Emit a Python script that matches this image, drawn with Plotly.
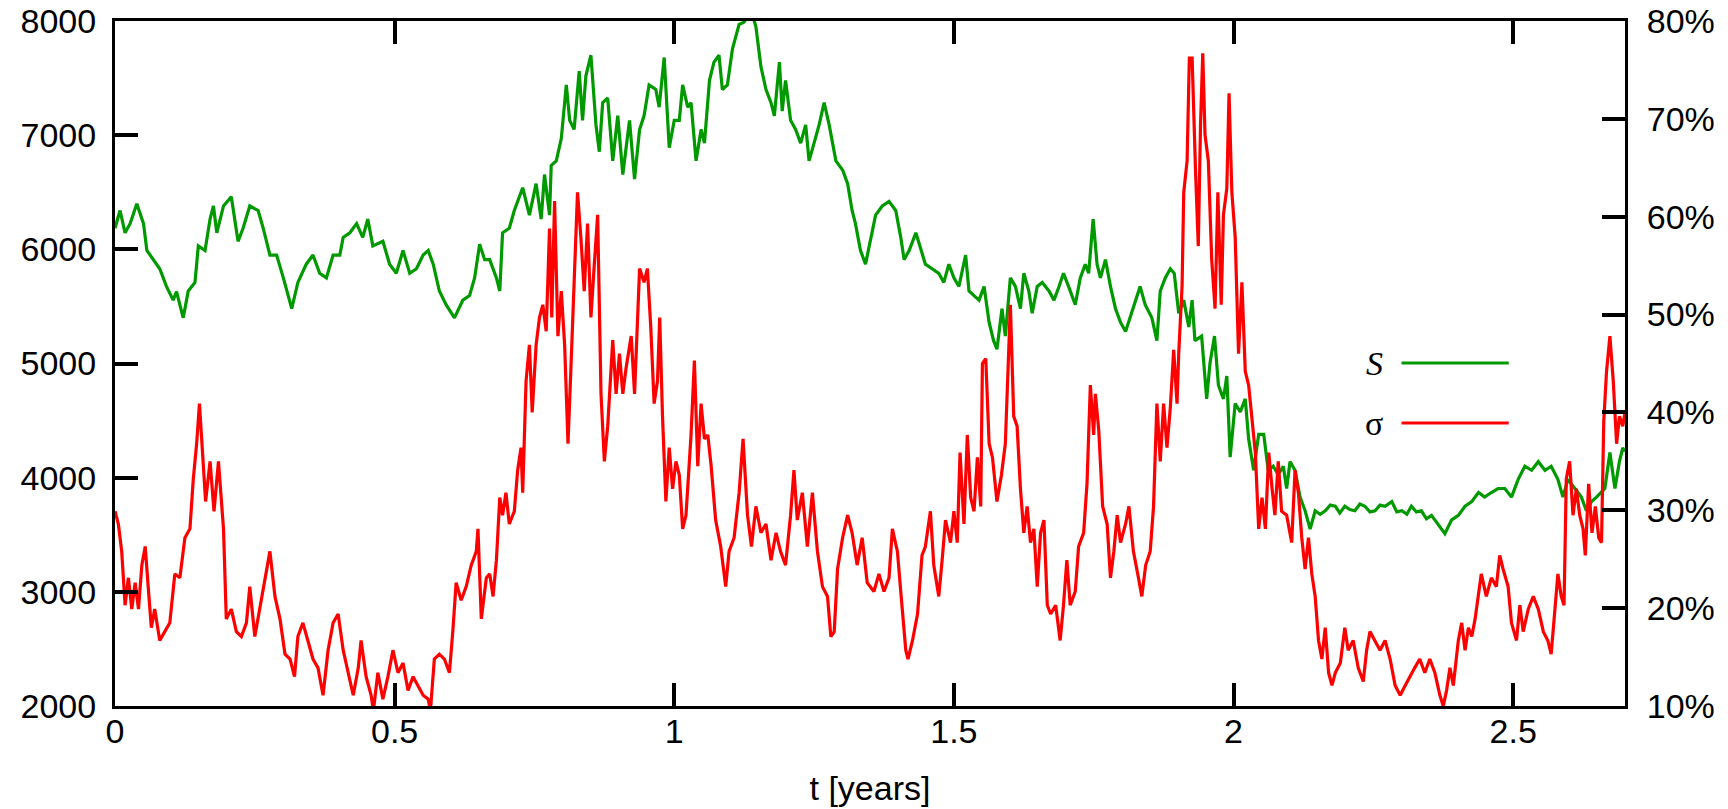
import plotly.graph_objects as go

# ---- data ----
s_t = [0.000,0.009,0.018,0.027,0.039,0.051,0.057,0.068,0.080,0.092,0.104,0.110,0.122,0.131,0.143,0.149,0.161,0.170,0.176,0.182,
       0.194,0.208,0.220,0.229,0.241,0.256,0.265,0.277,0.289,0.301,0.316,0.327,0.334,0.342,0.354,0.366,0.378,0.390,0.402,0.408,
       0.420,0.432,0.443,0.452,0.461,0.479,0.491,0.503,0.515,0.527,0.539,0.551,0.560,0.569,0.580,0.592,0.607,0.622,0.634,0.643,
       0.652,0.661,0.670,0.682,0.688,0.693,0.705,0.714,0.729,0.741,0.753,0.762,0.768,0.777,0.780,0.789,0.798,0.807,0.813,0.821,
       0.830,0.836,0.842,0.851,0.860,0.866,0.872,0.881,0.890,0.899,0.908,0.920,0.929,0.938,0.946,0.955,0.967,0.973,0.982,0.991,
       1.000,1.009,1.015,1.024,1.030,1.039,1.048,1.054,1.063,1.071,1.080,1.086,1.095,1.104,1.116,1.125,1.137,1.146,1.155,1.164,
       1.173,1.179,1.188,1.193,1.199,1.208,1.217,1.226,1.235,1.241,1.250,1.259,1.268,1.277,1.289,1.301,1.310,1.318,1.324,1.333,
       1.342,1.351,1.360,1.372,1.384,1.396,1.405,1.411,1.420,1.432,1.441,1.449,1.461,1.473,1.482,1.491,1.500,1.509,1.521,1.527,
       1.536,1.545,1.554,1.563,1.571,1.577,1.586,1.592,1.601,1.610,1.619,1.625,1.634,1.640,1.649,1.658,1.670,1.679,1.688,1.696,
       1.705,1.717,1.726,1.735,1.741,1.749,1.756,1.762,1.771,1.780,1.789,1.798,1.807,1.815,1.824,1.833,1.842,1.854,1.863,1.869,
       1.878,1.887,1.894,1.902,1.911,1.920,1.926,1.931,1.943,1.952,1.958,1.966,1.973,1.982,1.988,1.994,2.003,2.012,2.021,2.027,
       2.036,2.045,2.054,2.062,2.071,2.080,2.089,2.095,2.101,2.110,2.119,2.128,2.137,2.146,2.155,2.164,2.173,2.182,2.190,2.199,
       2.208,2.217,2.226,2.235,2.244,2.253,2.262,2.271,2.283,2.292,2.301,2.310,2.318,2.327,2.336,2.345,2.354,2.366,2.378,2.390,
       2.402,2.414,2.426,2.438,2.449,2.461,2.473,2.485,2.497,2.509,2.521,2.533,2.545,2.557,2.568,2.580,2.589,2.598,2.610,2.622,
       2.631,2.640,2.649,2.658,2.664,2.673,2.682,2.690,2.696,2.700]
s_v = [6185,6340,6145,6225,6400,6225,5990,5910,5830,5675,5555,5630,5400,5635,5710,6030,5990,6265,6380,6145,
       6380,6460,6070,6185,6380,6340,6185,5950,5950,5750,5480,5710,5790,5870,5950,5790,5750,5950,5950,6105,
       6145,6225,6105,6265,6030,6070,5870,5790,5990,5790,5830,5950,5990,5870,5635,5515,5400,5555,5595,5750,
       6045,5910,5910,5750,5635,6145,6185,6340,6540,6300,6575,6265,6655,6300,6735,6775,6970,7440,7130,7050,
       7560,7130,7520,7700,7090,6855,7285,7325,6775,7170,6655,7130,6615,7050,7170,7440,7400,7245,7680,6890,
       7130,7130,7440,7245,7285,6775,7050,6930,7480,7640,7700,7400,7440,7755,7970,7990,8100,7950,7600,7400,
       7285,7170,7640,7210,7480,7130,7050,6930,7090,6775,6930,7090,7285,7090,6775,6695,6575,6340,6225,5990,
       5870,6070,6300,6380,6420,6340,6105,5910,5990,6145,5990,5870,5830,5790,5710,5870,5750,5675,5950,5635,
       5595,5555,5675,5360,5200,5125,5480,5240,5750,5675,5480,5790,5635,5440,5675,5710,5635,5555,5675,5790,
       5675,5515,5750,5870,5790,6265,5870,5750,5910,5675,5480,5360,5280,5400,5555,5675,5515,5400,5200,5635,
       5750,5830,5790,5440,5555,5320,5555,5200,5240,4690,5005,5240,4810,4690,4890,4180,4650,4575,4690,4340,
       4065,4380,4380,4065,4100,4025,4100,3905,4140,4065,3830,3710,3550,3710,3680,3710,3760,3750,3690,3750,
       3720,3710,3770,3750,3700,3710,3760,3750,3790,3700,3710,3680,3750,3700,3710,3640,3670,3590,3510,3630,
       3670,3750,3790,3870,3830,3870,3905,3905,3830,3985,4100,4065,4140,4065,4100,3985,3830,3985,3905,3830,
       3710,3790,3830,3870,3905,4220,3905,4140,4260,4230]

sig_t = [0.000,0.006,0.012,0.018,0.024,0.030,0.036,0.042,0.048,0.054,0.060,0.065,0.071,0.080,0.089,0.098,0.107,0.116,0.125,0.134,
         0.140,0.146,0.151,0.157,0.162,0.170,0.177,0.185,0.194,0.199,0.208,0.217,0.226,0.235,0.241,0.250,0.259,0.268,0.277,0.286,
         0.295,0.304,0.313,0.321,0.327,0.336,0.345,0.354,0.363,0.372,0.381,0.390,0.399,0.408,0.417,0.426,0.435,0.440,0.449,0.458,
         0.462,0.470,0.479,0.488,0.497,0.506,0.515,0.524,0.533,0.542,0.551,0.560,0.564,0.571,0.580,0.589,0.598,0.604,0.610,0.619,
         0.628,0.637,0.646,0.649,0.655,0.664,0.670,0.676,0.682,0.688,0.693,0.699,0.705,0.714,0.720,0.726,0.729,0.735,0.741,0.746,
         0.753,0.759,0.765,0.771,0.777,0.781,0.786,0.792,0.798,0.804,0.810,0.815,0.821,0.827,0.833,0.839,0.845,0.851,0.857,0.863,
         0.869,0.875,0.881,0.890,0.896,0.902,0.908,0.914,0.923,0.929,0.938,0.946,0.952,0.958,0.964,0.970,0.974,0.979,0.985,0.991,
         0.997,1.003,1.009,1.015,1.021,1.030,1.036,1.042,1.048,1.054,1.060,1.066,1.074,1.083,1.092,1.098,1.107,1.116,1.123,1.131,
         1.138,1.146,1.155,1.164,1.173,1.182,1.190,1.199,1.208,1.214,1.220,1.229,1.238,1.247,1.256,1.265,1.274,1.280,1.286,1.292,
         1.301,1.310,1.318,1.327,1.336,1.345,1.357,1.366,1.375,1.384,1.390,1.399,1.405,1.414,1.418,1.426,1.435,1.443,1.449,1.458,
         1.464,1.473,1.479,1.485,1.494,1.500,1.506,1.511,1.518,1.524,1.530,1.536,1.542,1.548,1.551,1.557,1.563,1.569,1.577,1.585,
         1.592,1.597,1.601,1.607,1.613,1.619,1.625,1.631,1.637,1.643,1.649,1.655,1.661,1.667,1.673,1.682,1.690,1.696,1.702,1.708,
         1.717,1.723,1.732,1.738,1.744,1.750,1.753,1.759,1.766,1.774,1.780,1.786,1.792,1.798,1.807,1.813,1.821,1.830,1.836,1.843,
         1.851,1.857,1.863,1.869,1.875,1.881,1.887,1.893,1.899,1.902,1.908,1.911,1.917,1.921,1.926,1.932,1.937,1.941,1.945,1.949,
         1.955,1.961,1.967,1.972,1.978,1.982,1.988,1.992,1.997,2.003,2.009,2.015,2.021,2.027,2.033,2.039,2.045,2.051,2.057,2.063,
         2.069,2.074,2.080,2.086,2.095,2.104,2.110,2.116,2.122,2.128,2.134,2.140,2.146,2.152,2.158,2.164,2.170,2.176,2.182,2.191,
         2.199,2.205,2.214,2.223,2.232,2.238,2.244,2.253,2.262,2.271,2.280,2.289,2.298,2.307,2.315,2.324,2.333,2.342,2.351,2.360,
         2.369,2.375,2.381,2.387,2.393,2.402,2.408,2.414,2.420,2.426,2.432,2.438,2.443,2.452,2.461,2.470,2.476,2.482,2.491,2.497,
         2.506,2.512,2.518,2.527,2.536,2.545,2.554,2.562,2.568,2.574,2.580,2.586,2.591,2.595,2.601,2.607,2.613,2.619,2.625,2.629,
         2.635,2.641,2.647,2.653,2.658,2.662,2.667,2.673,2.679,2.685,2.690,2.696,2.700]
sig_v = [29.9,28.6,25.8,20.3,23.1,19.9,22.6,19.9,24.4,26.3,21.7,18.0,19.9,16.7,17.6,18.5,23.5,23.1,27.2,28.1,
         33.2,36.8,40.9,35.9,30.9,35.0,29.9,35.0,28.1,18.9,19.9,17.6,17.1,18.5,22.2,17.1,19.9,22.6,25.8,21.2,
         18.9,15.3,14.8,13.0,17.1,18.5,16.7,14.8,13.9,11.1,15.7,18.5,19.4,15.7,13.4,11.1,13.9,16.7,13.0,11.1,
         9.5,13.4,10.7,13.0,15.7,13.4,14.4,11.6,13.0,12.1,11.1,10.7,9.5,14.8,15.3,14.8,13.4,17.6,22.6,20.8,
         22.2,24.4,25.8,28.1,18.9,23.1,23.5,21.2,24.9,31.3,29.5,31.8,28.6,29.9,34.1,36.4,31.8,43.2,46.9,40.0,
         46.9,49.7,51.0,48.3,58.8,49.7,61.6,47.8,52.4,46.9,36.8,44.2,53.3,62.5,57.9,52.4,59.3,49.7,55.1,60.2,
         41.9,35.0,38.6,47.4,41.9,46.0,41.9,44.6,47.8,41.9,54.7,53.3,54.7,48.7,40.9,43.2,49.7,39.6,30.9,36.4,
         32.2,35.0,33.6,28.1,29.5,37.7,45.3,34.5,40.9,37.3,37.7,34.5,29.0,26.3,22.2,25.8,27.2,31.8,37.3,29.5,
         26.3,30.4,27.7,28.6,24.9,27.7,25.8,24.4,29.5,34.1,29.0,31.8,26.3,31.8,25.8,22.2,21.2,17.1,17.6,24.0,
         27.2,29.5,27.7,24.4,27.2,22.6,21.7,23.5,21.7,23.1,28.1,25.8,21.7,15.7,14.8,16.7,19.4,25.4,26.3,29.9,
         24.4,21.2,24.9,29.0,26.7,29.9,26.7,35.9,28.6,37.7,31.3,29.9,35.4,30.4,45.0,45.5,36.8,35.4,30.9,33.6,
         36.8,46.0,51.0,39.6,38.6,32.2,27.7,30.4,26.7,28.1,22.2,27.7,29.0,20.3,19.4,20.3,16.7,20.3,24.9,20.3,
         21.7,26.3,27.7,32.7,42.8,37.7,41.9,38.2,30.4,28.6,23.1,25.8,29.5,26.7,28.6,30.4,25.8,23.1,21.2,24.4,
         25.8,30.4,40.9,35.0,40.9,36.4,40.5,46.4,40.9,46.0,52.9,62.5,65.7,76.2,76.2,64.8,57.0,69.4,76.7,68.4,
         65.7,55.6,50.6,62.5,51.0,60.2,62.9,72.6,62.5,57.9,46.0,53.3,44.2,42.8,39.6,35.9,28.1,31.3,28.1,35.9,
         32.2,29.5,35.0,29.9,29.5,26.7,34.1,31.8,27.2,24.0,27.2,23.5,21.2,16.7,14.8,18.0,13.4,12.1,13.4,14.4,
         18.0,15.7,16.7,13.9,12.5,15.7,17.6,16.7,15.7,16.7,14.8,12.1,11.1,12.1,13.0,13.9,14.8,13.4,14.8,13.4,
         11.1,10.0,11.6,13.9,12.1,16.7,18.5,15.7,18.0,17.1,18.9,21.7,23.5,21.2,23.1,22.2,25.4,24.0,22.2,18.5,
         16.7,20.3,17.6,19.9,21.2,19.9,17.6,16.7,15.3,19.4,23.5,21.2,20.3,33.2,35.0,29.5,32.2,29.5,28.1,25.4,
         32.7,27.7,30.4,27.2,26.7,39.1,44.2,47.8,43.2,36.8,39.6,38.6,40.0]

x_ticks = [0, 0.5, 1, 1.5, 2, 2.5]
x_labels = ["0", "0.5", "1", "1.5", "2", "2.5"]
y_ticks = [2000, 3000, 4000, 5000, 6000, 7000, 8000]
y2_ticks = [10, 20, 30, 40, 50, 60, 70, 80]
y2_labels = ["10%", "20%", "30%", "40%", "50%", "60%", "70%", "80%"]

GREEN = "#009900"
RED = "#ff0000"
FONT = "Liberation Sans, Arial, sans-serif"
FS = 34

fig = go.Figure()
fig.add_trace(go.Scatter(x=s_t, y=s_v, mode="lines", name="S",
                         line=dict(color=GREEN, width=3.2), yaxis="y"))
fig.add_trace(go.Scatter(x=sig_t, y=sig_v, mode="lines", name="σ",
                         line=dict(color=RED, width=3.2), yaxis="y2"))

axis_common = dict(showgrid=False, zeroline=False, showline=True, linecolor="black",
                   linewidth=3, ticks="inside", ticklen=23, tickwidth=4, tickcolor="black",
                   automargin=False,
                   tickfont=dict(family=FONT, size=FS, color="black"))

fig.update_layout(
    width=1728, height=809,
    margin=dict(l=115, r=103, t=21, b=103),
    paper_bgcolor="white", plot_bgcolor="white",
    showlegend=False,
    xaxis=dict(range=[0, 2.7], tickvals=x_ticks, ticktext=x_labels, mirror="ticks",
               ticklabelstandoff=-7,
               title=dict(text="t [years]", font=dict(family=FONT, size=FS, color="black"), standoff=28),
               **axis_common),
    yaxis=dict(range=[2000, 8000], tickvals=y_ticks, mirror=False, ticklabelstandoff=9,
               **axis_common),
    yaxis2=dict(range=[10, 80], tickvals=y2_ticks, ticktext=y2_labels, overlaying="y", side="right",
                ticklabelstandoff=12, **axis_common),
)

# gnuplot-style key: label to the left of the line sample
key_rows = [("<i>S</i>", GREEN, 0.5007), ("σ", RED, 0.413)]
for label, color, yk in key_rows:
    fig.add_annotation(x=0.841, y=yk, xref="paper", yref="paper", text=label, showarrow=False,
                       xanchor="right", yanchor="middle",
                       font=dict(family="Liberation Serif, Times New Roman, serif", size=34, color="black"))
    fig.add_shape(type="line", xref="paper", yref="paper", x0=0.852, x1=0.923, y0=yk, y1=yk,
                  line=dict(color=color, width=3))

fig.write_html("out.html")
